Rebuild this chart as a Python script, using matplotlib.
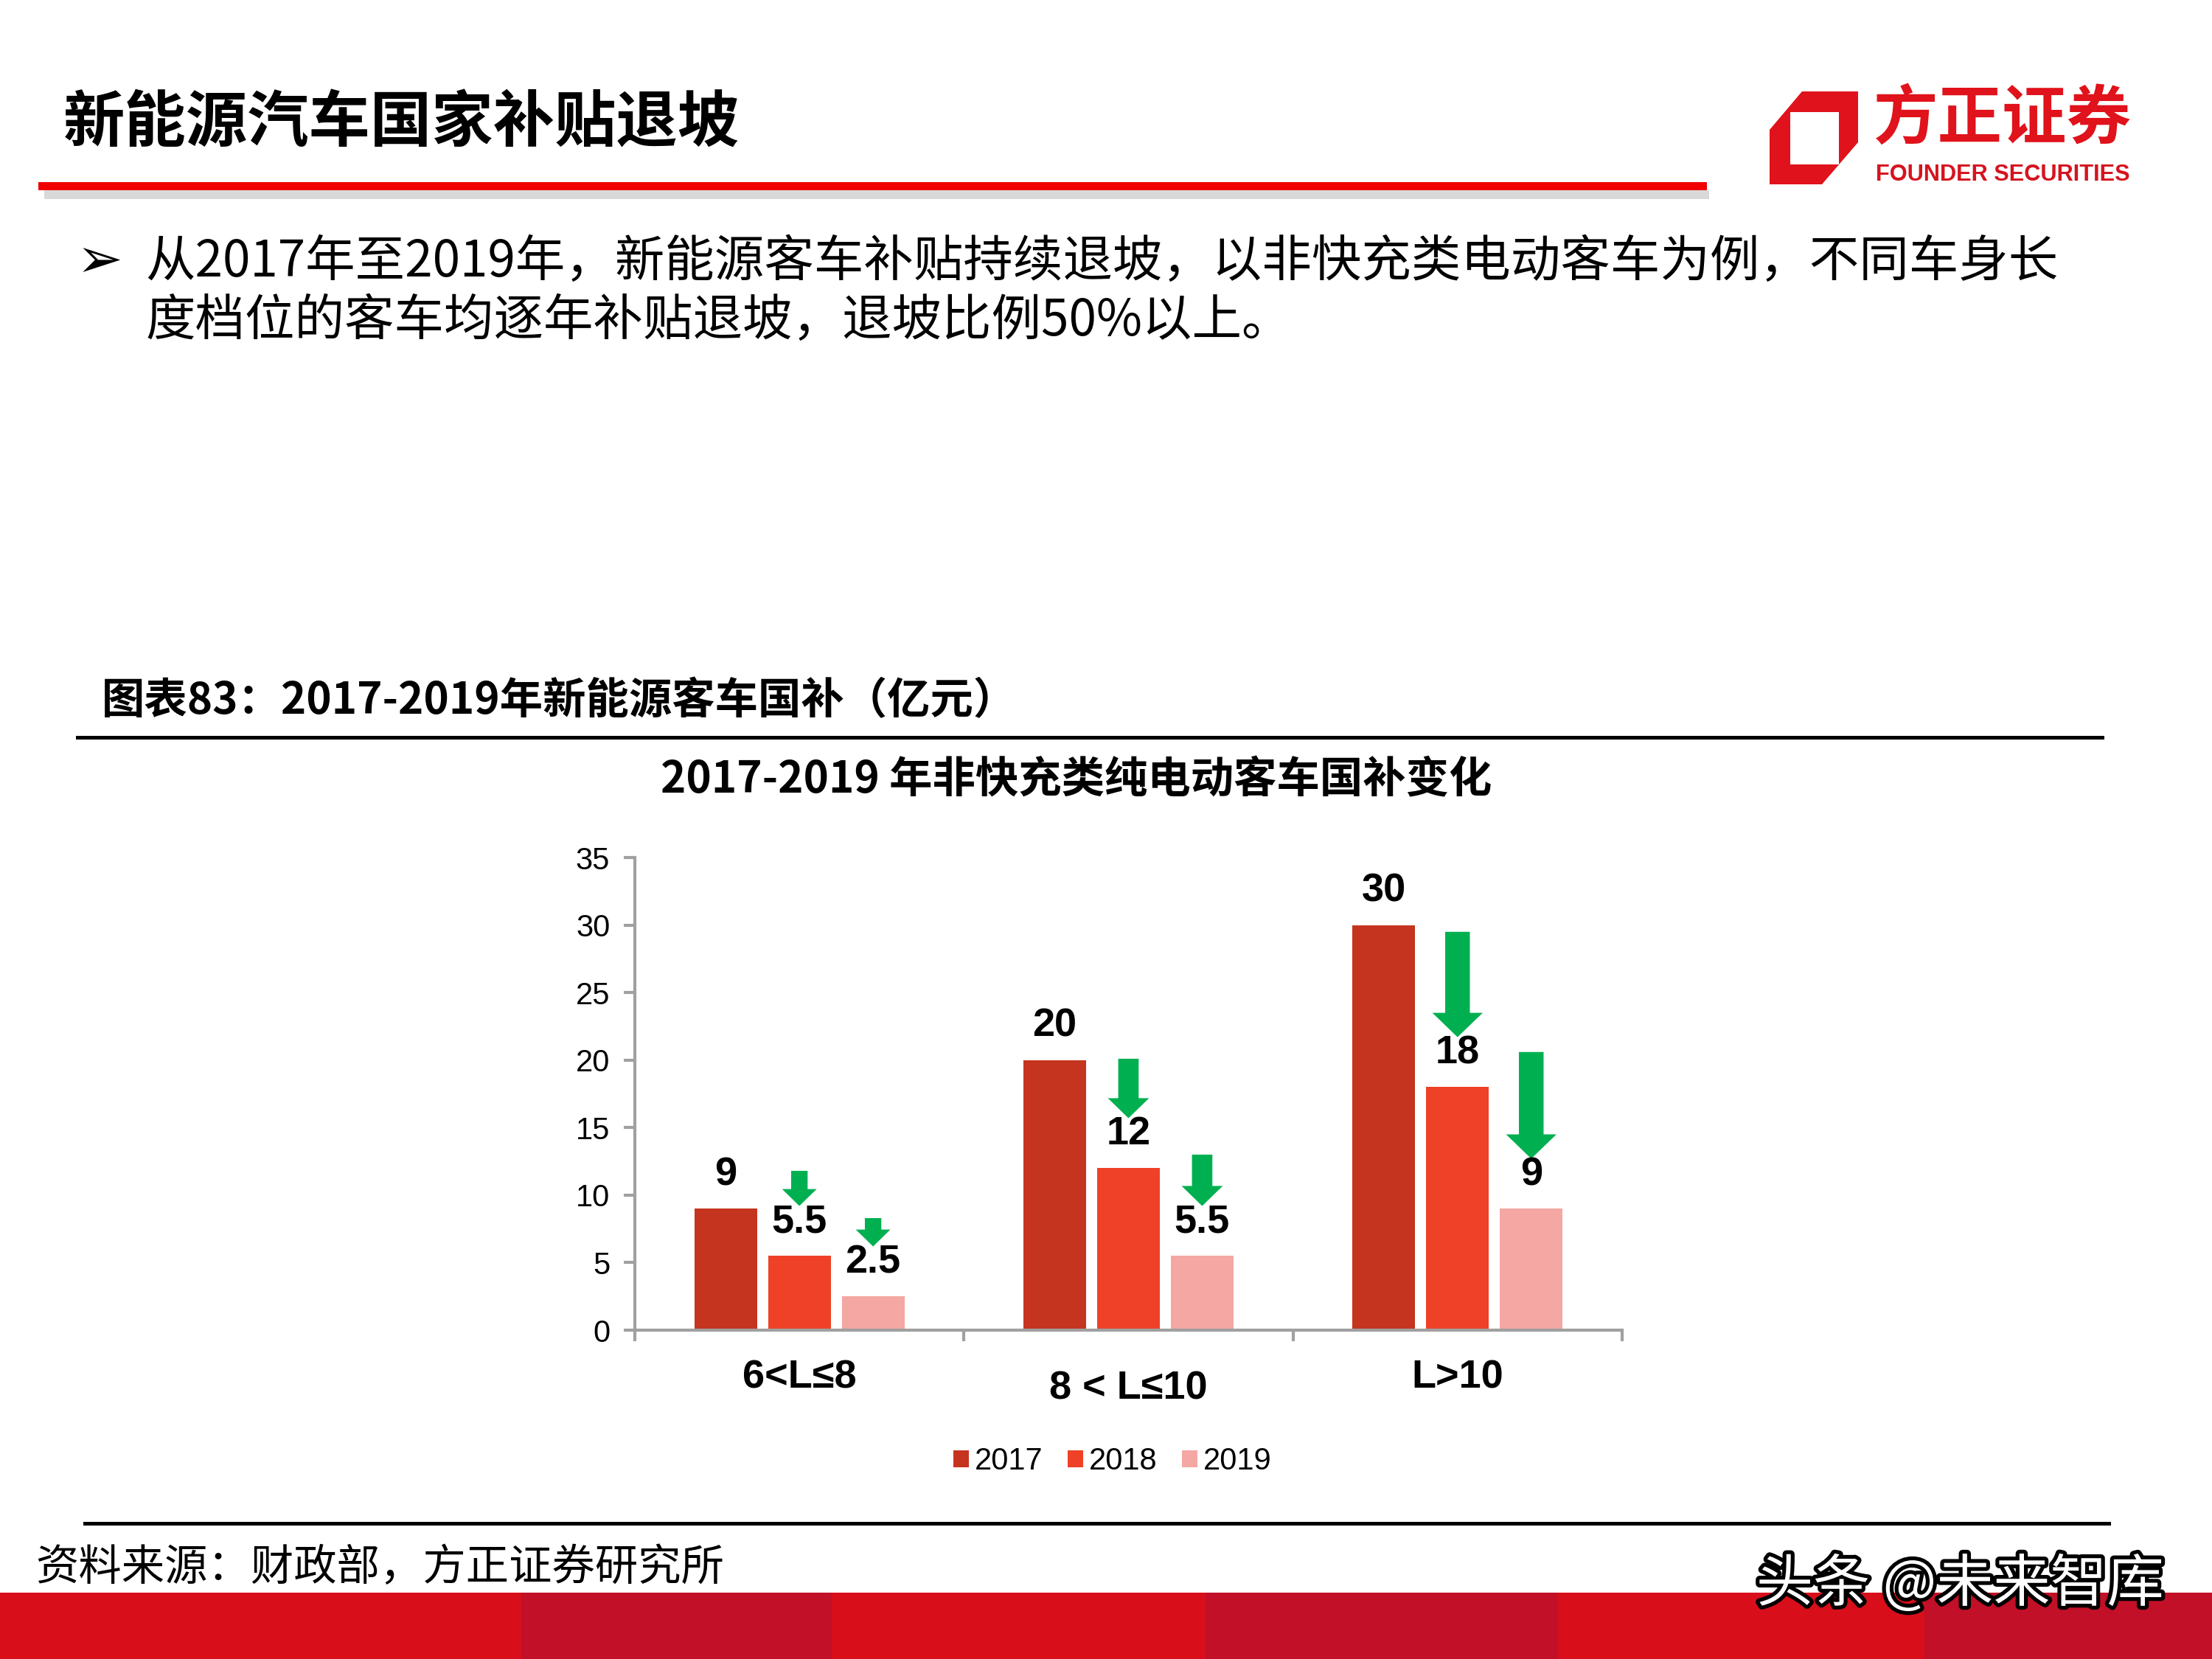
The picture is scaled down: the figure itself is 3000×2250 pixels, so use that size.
import numpy as np
import matplotlib
matplotlib.use('Agg')
import matplotlib.pyplot as plt
from matplotlib.patches import Rectangle, Polygon, Patch
from matplotlib.lines import Line2D
import matplotlib.patheffects as pe

plt.rcParams['font.family'] = ['Noto Sans CJK SC', 'DejaVu Sans']

# %% data
categories = ['6<L≤8', '8 < L≤10', 'L>10']
years = ['2017', '2018', '2019']
subsidy_2017 = [9, 20, 30]
subsidy_2018 = [5.5, 12, 18]
subsidy_2019 = [2.5, 5.5, 9]
# top end of the green arrows
arrow_top_2018 = [11.8, 20.1, 29.5]
arrow_top_2019 = [8.3, 13.0, 20.6]

colors = ['#C5341E', '#EE4128', '#F4A7A3']
green = '#00B050'
narrow = ['Liberation Sans Narrow', 'Liberation Sans', 'DejaVu Sans']

W, H = 3000, 2250
fig = plt.figure(figsize=(10, 7.5), dpi=300)


def fx(px):
    return px / W


def fy(py):
    return 1 - py / H


# %% header
fig.text(fx(86), fy(168), '新能源汽车国家补贴退坡', fontsize=20, fontweight='bold',
         ha='left', va='center')
fig.add_artist(Rectangle((fx(60), fy(270)), fx(2258), 12 / H, color='#d9d9d9', lw=0,
                         transform=fig.transFigure))
fig.add_artist(Rectangle((fx(52), fy(258)), fx(2263), 11 / H, color='#F00000', lw=0,
                         transform=fig.transFigure))

# logo
logo_red = '#E0121B'
outer = [(2400, 176), (2444, 124), (2520, 124), (2520, 193), (2471, 250), (2400, 250)]
fig.add_artist(Polygon([(fx(a), fy(b)) for a, b in outer], closed=True, color=logo_red,
                       lw=0, transform=fig.transFigure))
fig.add_artist(Rectangle((fx(2428), fy(223)), fx(2494) - fx(2428), (223 - 152) / H,
                         color='white', lw=0, transform=fig.transFigure))
fig.text(fx(2716), fy(163), '方正证券', fontsize=21, fontweight='bold', color=logo_red,
         ha='center', va='center')
fig.text(fx(2716), fy(237), 'FOUNDER SECURITIES', fontsize=7.4, fontweight='bold',
         color='#D5141F', ha='center', va='center', family=['Liberation Sans'])

# bullet text
fig.text(fx(104), fy(356), '➢', fontsize=18, family=['DejaVu Sans'], ha='left', va='center')
fig.text(fx(197), fy(356), '从2017年至2019年，新能源客车补贴持续退坡，以非快充类电动客车为例，不同车身长',
         fontsize=16.2, ha='left', va='center')
fig.text(fx(197), fy(436), '度档位的客车均逐年补贴退坡，退坡比例50%以上。',
         fontsize=16.2, ha='left', va='center')

# caption
fig.text(fx(138), fy(951), '图表83：2017-2019年新能源客车国补（亿元）', fontsize=14,
         fontweight='bold', ha='left', va='center')
fig.add_artist(Line2D([fx(105), fx(2851)], [fy(1000), fy(1000)], color='black', lw=1.2,
                      transform=fig.transFigure))

fig.text(fx(1460), fy(1058), '2017-2019 年非快充类纯电动客车国补变化', fontsize=14,
         fontweight='bold', ha='center', va='center')

# %% chart
ax = fig.add_axes([0.287, 0.1982, 0.4463, 0.2849])
x = np.arange(len(categories))
w = 0.19
off = 0.224
series = [subsidy_2017, subsidy_2018, subsidy_2019]
for i, (vals, c) in enumerate(zip(series, colors)):
    xs = x + (i - 1) * off
    ax.bar(xs, vals, width=w, color=c, lw=0)
    for xi, v in zip(xs, vals):
        ax.text(xi, v + 2.5, f'{v:g}', ha='center', va='center', fontsize=13,
                fontweight='bold', family=narrow)

# green arrows
shaft = [0.05, 0.062, 0.075]
head_w = [0.105, 0.125, 0.153]
head_l = [1.25, 1.48, 1.8]
for i, (tops, vals) in enumerate([(arrow_top_2018, subsidy_2018), (arrow_top_2019, subsidy_2019)]):
    xs = x + i * off
    for j in range(len(categories)):
        tip = vals[j] + 3.7
        ax.arrow(xs[j], tops[j], 0, tip - tops[j], width=shaft[j], head_width=head_w[j],
                 head_length=head_l[j], length_includes_head=True, color=green, lw=0)

ax.set_xlim(-0.5, 2.5)
ax.set_ylim(0, 35)
ax.set_yticks(range(0, 36, 5))
for s in ['top', 'right']:
    ax.spines[s].set_visible(False)
for s in ['left', 'bottom']:
    ax.spines[s].set_color('#A0A0A0')
    ax.spines[s].set_linewidth(1.0)
ax.tick_params(axis='y', colors='#A0A0A0', length=3.6, width=1, labelcolor='black',
               labelsize=10, pad=4.5)
for lbl in ax.get_yticklabels():
    lbl.set_family('Liberation Sans')

ax.set_xticks(x)
ax.set_xticklabels(categories, fontsize=13, fontweight='bold', family=narrow)
ax.set_xticks([-0.5, 0.5, 1.5, 2.5], minor=True)
ax.tick_params(axis='x', which='major', length=0, pad=9.5)
ax.tick_params(axis='x', which='minor', length=3.6, width=1, colors='#A0A0A0')
ax.xaxis.get_major_ticks()[1].set_pad(13.0)

handles = [Patch(facecolor=c, edgecolor='none') for c in colors]
fig.legend(handles, years, loc='center', bbox_to_anchor=(0.503, 0.119), ncol=3,
           frameon=False, prop={'family': 'Liberation Sans', 'size': 10},
           handlelength=0.5, handleheight=0.5, handletextpad=0.2, columnspacing=0.8)

# %% footer
fig.add_artist(Line2D([fx(115), fx(2860)], [fy(2066), fy(2066)], color='black', lw=1.2,
                      transform=fig.transFigure))
fig.text(fx(48), fy(2127), '资料来源：财政部，方正证券研究所', fontsize=14, ha='left', va='center')

stripes = [(0, 707, '#D80F1B'), (707, 1128, '#C11027'), (1128, 1635, '#D80F1B'),
           (1635, 2113, '#C11027'), (2113, 2610, '#D80F1B'), (2610, 3000, '#C11027')]
for a, b, c in stripes:
    fig.add_artist(Rectangle((fx(a), 0), fx(b) - fx(a), fy(2160), color=c, lw=0,
                             transform=fig.transFigure))

fig.text(fx(2382), fy(2150), '头条 @未来智库', fontsize=18.5, color='white', ha='left',
         va='center', path_effects=[pe.withStroke(linewidth=2.5, foreground='black')])

plt.savefig('out.png', dpi=300)
plt.close()
